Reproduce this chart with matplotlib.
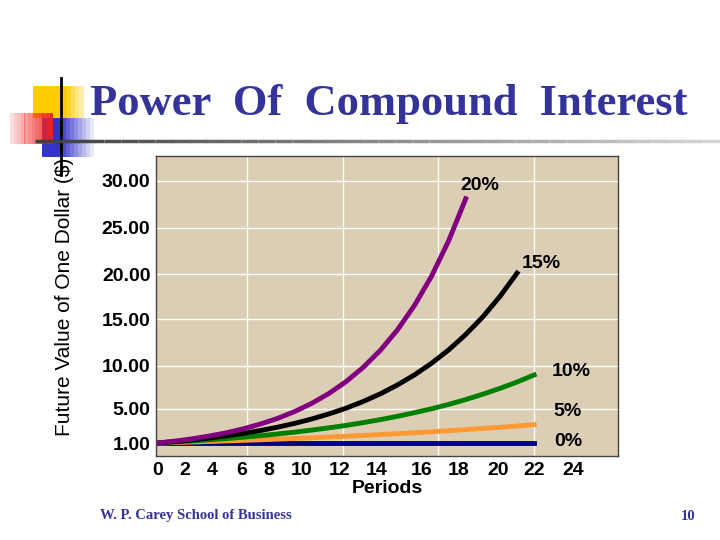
import matplotlib

matplotlib.use("Agg")
import matplotlib.pyplot as plt
import numpy as np
from matplotlib.patches import Rectangle

plt.rcParams["font.family"] = ["Liberation Sans", "DejaVu Sans"]

# future value of $1 at each whole period
periods_0 = [0, 22]
fv_0 = [1.0, 1.0]
fv_5 = [1, 1.05, 1.10, 1.16, 1.22, 1.28, 1.34, 1.41, 1.48, 1.55, 1.63, 1.71,
        1.80, 1.89, 1.98, 2.08, 2.18, 2.29, 2.41, 2.53, 2.65, 2.79, 2.93]
fv_10 = [1, 1.10, 1.21, 1.33, 1.46, 1.61, 1.77, 1.95, 2.14, 2.36, 2.59, 2.85,
         3.14, 3.45, 3.80, 4.18, 4.59, 5.05, 5.56, 6.12, 6.73, 7.40, 8.14]
fv_15 = [1, 1.15, 1.32, 1.52, 1.75, 2.01, 2.31, 2.66, 3.06, 3.52, 4.05, 4.65,
         5.35, 6.15, 7.08, 8.14, 9.36, 10.76, 12.38, 14.23, 16.37, 18.82]
fv_20 = [1, 1.2, 1.44, 1.73, 2.07, 2.49, 2.99, 3.58, 4.30, 5.16, 6.19, 7.43,
         8.92, 10.70, 12.84, 15.41, 18.49, 22.19, 26.62]

# the original slide's axis labels sit off the real grid
x_tick_pos = [0, 1.6, 3.2, 4.9, 6.5, 8.4, 10.6, 12.8, 15.4, 17.6, 19.9, 22.0, 24.3]
x_tick_labels = ["0", "2", "4", "6", "8", "10", "12", "14", "16", "18", "20", "22", "24"]
x_grid = [5.2, 10.8, 16.4, 22.0]
y_tick_pos = [28.5, 23.6, 18.7, 14.0, 9.1, 4.6, 1.0]
y_tick_labels = ["30.00", "25.00", "20.00", "15.00", "10.00", "5.00", "1.00"]
y_grid = [28.5, 23.6, 18.7, 14.0, 9.1, 4.6]

fig = plt.figure(figsize=(7.2, 5.4), dpi=100)

# slide decoration
deco = fig.add_axes([0, 0, 1, 1])
deco.set_xlim(0, 720)
deco.set_ylim(540, 0)
deco.axis("off")
for i in range(12):
    deco.add_patch(Rectangle((33 + i * 4.2, 86), 4.3, 32, color="#ffcc00",
                             alpha=1 - max(0, i - 7) / 6, lw=0))
for i in range(14):
    deco.add_patch(Rectangle((42 + i * 4, 118), 4.1, 39, color="#3333cc",
                             alpha=max(0.0, 1 - max(0, i - 4) / 9), lw=0))
for i in range(12):
    deco.add_patch(Rectangle((10 + i * 3.6, 113), 3.7, 31, color="#ee2222",
                             alpha=0.08 + 0.85 * (i + 1) / 12, lw=0))
deco.plot([61, 61], [78, 175], color="black", lw=2)
for i in range(40):
    x0 = 35 + i * 685 / 40
    g = 0.25 + 0.6 * i / 40
    deco.plot([x0, x0 + 685 / 40 + 0.5], [141, 141], color=(g, g, g), lw=2.5,
              solid_capstyle="butt")
deco.text(90, 104, "Power  Of  Compound  Interest", family=["Liberation Serif"],
          fontsize=32, fontweight="bold", color="#333399", va="center")
deco.text(100, 516, "W. P. Carey School of Business", family=["Liberation Serif"],
          fontsize=10.5, fontweight="bold", color="#333399", va="center")
deco.text(695, 516, "10", family=["Liberation Serif"], fontsize=10.5,
          fontweight="bold", color="#333399", va="center", ha="right")

ax = fig.add_axes([156 / 720, 84 / 540, 462 / 720, 300 / 540])
ax.set_facecolor("#dccdb5")
ax.set_xlim(-0.1, 26.9)
ax.set_ylim(-0.36, 31.1)
for xg in x_grid:
    ax.axvline(xg, color="white", lw=1)
for yg in y_grid:
    ax.axhline(yg, color="white", lw=1)

ax.plot(periods_0, fv_0, color="#000080", lw=3.5)
ax.plot(range(len(fv_5)), fv_5, color="#ff9933", lw=3.5)
ax.plot(range(len(fv_10)), fv_10, color="#008000", lw=3.5)
ax.plot(range(len(fv_15)), fv_15, color="black", lw=3.5)
ax.plot(range(len(fv_20)), fv_20, color="#800080", lw=3.5)

ax.set_xticks(x_tick_pos)
ax.set_xticklabels(x_tick_labels, fontsize=14, fontweight="bold")
ax.set_yticks(y_tick_pos)
ax.set_yticklabels(y_tick_labels, fontsize=14, fontweight="bold")
ax.tick_params(length=0, pad=4)
for s in ax.spines.values():
    s.set_color("#444444")
    s.set_linewidth(1)
ax.set_xlabel("Periods", fontsize=14, fontweight="bold", labelpad=1)

for txt, x, y in [("20%", 480, 186), ("15%", 541, 264), ("10%", 571, 372),
                  ("5%", 568, 411), ("0%", 568, 441)]:
    fig.text(x / 720, 1 - y / 540, txt, fontsize=14, fontweight="bold",
             ha="center", va="center")

fig.text(65 / 720, 1 - 297 / 540, "Future Value of One Dollar ($)", rotation=90,
         fontsize=15, ha="center", va="center")

fig.savefig("out.png", dpi=100)
